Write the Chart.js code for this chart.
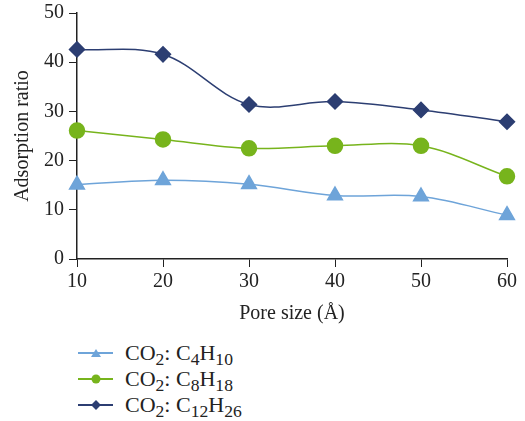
<!DOCTYPE html>
<html>
<head>
<meta charset="utf-8">
<script src="https://cdn.jsdelivr.net/npm/chart.js@4/dist/chart.umd.min.js"></script>
<style>
  body { margin: 0; background: #fff; font-family: "Liberation Serif", serif; }
  #wrap { position: relative; width: 525px; height: 330px; }
  #legend { position: absolute; left: 78px; top: 340px; font-size: 22px; color: #222; }
  .row { display: flex; align-items: center; height: 26px; }
  .key { position: relative; width: 35px; height: 2px; margin-right: 12px; }
  .mk { position: absolute; left: 50%; top: 50%; transform: translate(-50%, -50%); }
  sub { font-size: 80%; vertical-align: -0.3em; line-height: 0; }
</style>
</head>
<body>
<div id="wrap"><canvas id="chart" width="525" height="330"></canvas></div>
<div id="legend"></div>
<script>
const poreSizes = [10, 20, 30, 40, 50, 60];
const c4h10 = [15.1, 16.0, 15.2, 12.9, 12.7, 8.9];
const c8h18 = [26.1, 24.3, 22.5, 23.0, 23.0, 16.8];
const c12h26 = [42.6, 41.6, 31.4, 32.0, 30.3, 27.9];
const yTicks = [0, 10, 20, 30, 40, 50];

const series = [
  { html: 'CO<sub>2</sub>: C<sub>4</sub>H<sub>10</sub>', data: c4h10, color: '#6ea4d9', style: 'triangle', radius: 8.5 },
  { html: 'CO<sub>2</sub>: C<sub>8</sub>H<sub>18</sub>', data: c8h18, color: '#77b41c', style: 'circle', radius: 7.5 },
  { html: 'CO<sub>2</sub>: C<sub>12</sub>H<sub>26</sub>', data: c12h26, color: '#2c3e72', style: 'rectRot', radius: 7.5 }
];

const font = { family: '"Liberation Serif", serif', size: 20 };

new Chart(document.getElementById('chart'), {
  type: 'line',
  data: {
    datasets: series.map(s => ({
      data: s.data.map((v, i) => ({ x: poreSizes[i], y: v })),
      borderColor: s.color,
      backgroundColor: s.color,
      borderWidth: 1.5,
      pointStyle: s.style,
      pointRadius: s.radius,
      pointHoverRadius: s.radius,
      tension: 0.35,
      clip: false
    }))
  },
  options: {
    responsive: false,
    animation: false,
    layout: { padding: { top: 12, right: 18, left: 0, bottom: 0 } },
    plugins: { legend: { display: false }, tooltip: { enabled: false } },
    scales: {
      x: {
        type: 'linear', min: 10, max: 60,
        afterBuildTicks: ax => { ax.ticks = poreSizes.map(v => ({ value: v })); },
        afterFit: ax => { ax.height = 71; },
        grid: { drawOnChartArea: false, tickLength: 8, color: '#222' },
        border: { color: '#222', width: 1.5 },
        ticks: { color: '#222', font: font, padding: 3, maxRotation: 0 },
        title: { display: true, text: 'Pore size (Å)', color: '#222', font: font, padding: { top: 2, bottom: 4 } }
      },
      y: {
        min: 0, max: 50,
        afterBuildTicks: ax => { ax.ticks = yTicks.map(v => ({ value: v })); },
        afterFit: ax => { ax.width = 77; },
        grid: { drawOnChartArea: false, tickLength: 8, color: '#222' },
        border: { color: '#222', width: 1.5 },
        ticks: { color: '#222', font: { family: font.family, size: 20, lineHeight: 0.8 }, padding: 5 },
        title: { display: true, text: 'Adsorption ratio', color: '#222', font: font, padding: { top: 11, bottom: 0 } }
      }
    }
  }
});

// legend built as html so the subscripts stay real text
const legend = document.getElementById('legend');
series.forEach(s => {
  let mk = '';
  if (s.style === 'triangle') {
    mk = `<span class="mk" style="width:0;height:0;border-left:5px solid transparent;border-right:5px solid transparent;border-bottom:8px solid ${s.color};top:30%"></span>`;
  } else if (s.style === 'circle') {
    mk = `<span class="mk" style="width:9px;height:9px;border-radius:50%;background:${s.color}"></span>`;
  } else {
    mk = `<span class="mk" style="width:7px;height:7px;background:${s.color};transform:translate(-50%,-50%) rotate(45deg)"></span>`;
  }
  legend.insertAdjacentHTML('beforeend',
    `<div class="row"><span class="key" style="background:${s.color}">${mk}</span><span>${s.html}</span></div>`);
});
</script>
</body>
</html>
